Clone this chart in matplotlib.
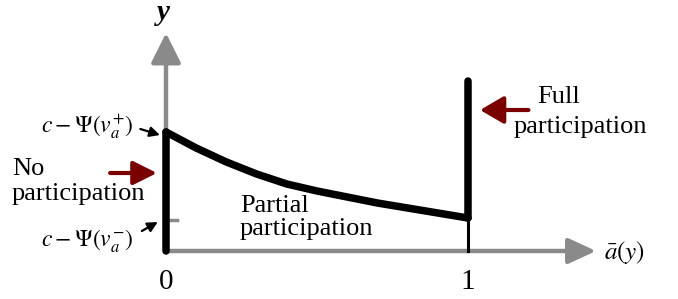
import matplotlib
matplotlib.use('Agg')
import matplotlib.pyplot as plt
import numpy as np

plt.rcParams['font.family'] = ['Liberation Serif', 'DejaVu Serif']
plt.rcParams['mathtext.fontset'] = 'stix'

# data
a_bar = [0.0, 0.1, 0.2, 0.3, 0.4, 0.5, 0.6, 0.7, 0.8, 0.9, 1.0]
y_partial = [1.19, 1.03, 0.89, 0.77, 0.67, 0.60, 0.54, 0.48, 0.43, 0.38, 0.33]
y_no = [0.0, 1.19]        # vertical segment at a=0
y_full = [0.33, 1.70]     # vertical segment at a=1
psi_minus = 0.31          # level of c - Psi(v_a^-)
tick_vals = [0, 1]
tick_labels = ['0', '1']

GRAY = '#8a8a8a'
RED = '#7a0000'

fig = plt.figure(figsize=(6.78, 2.99), dpi=100)
ax = fig.add_axes([0, 0, 1, 1])
# 1 unit of a = 302 px, 1 unit of y = 100 px, origin at (166, 251) px
ax.set_xlim(-166 / 302, (678 - 166) / 302)
ax.set_ylim(-(299 - 251) / 100, 251 / 100)
ax.axis('off')

# axes with arrow heads
ax.annotate('', xy=(1.424, 0), xytext=(0, 0),
            arrowprops=dict(arrowstyle='-|>,head_length=1.3,head_width=0.6',
                            mutation_scale=13, color=GRAY, lw=3.2,
                            shrinkA=0, shrinkB=0))
ax.annotate('', xy=(0, 2.18), xytext=(0, 0),
            arrowprops=dict(arrowstyle='-|>,head_length=1.4,head_width=0.7',
                            mutation_scale=13, color=GRAY, lw=3.2,
                            shrinkA=0, shrinkB=0))
ax.plot([0, 0.035], [psi_minus, psi_minus], color=GRAY, lw=2.5)

# participation curve
ax.plot([0, 0], y_no, color='black', lw=5.4, solid_capstyle='round', zorder=5)
ax.plot(a_bar, y_partial, color='black', lw=5.4, solid_capstyle='round',
        solid_joinstyle='round', zorder=5)
ax.plot([1, 1], y_full, color='black', lw=5.4, solid_capstyle='round', zorder=5)
ax.plot([1, 1], [0, y_full[0]], color='black', lw=2.2, zorder=5)

# tick labels
for v, lab in zip(tick_vals, tick_labels):
    ax.text(v, -0.31, lab, ha='center', va='center', fontsize=21)

ax.text(-0.01, 2.38, 'y', ha='center', va='center', fontsize=21,
        fontweight='bold', style='italic')
ax.text(1.45, -0.02, r'$\bar{a}(y)$', ha='left', va='center', fontsize=18)

# level labels
ax.text(-0.26, 1.24, r'$c-\Psi(v_a^{+})$', ha='center', va='center', fontsize=17)
ax.text(-0.26, 0.10, r'$c-\Psi(v_a^{-})$', ha='center', va='center', fontsize=17)
ax.annotate('', xy=(-0.02, 1.16), xytext=(-0.085, 1.22),
            arrowprops=dict(arrowstyle='-|>,head_length=0.6,head_width=0.3',
                            mutation_scale=10, color='black', lw=1.6,
                            shrinkA=0, shrinkB=0))
ax.annotate('', xy=(-0.027, 0.29), xytext=(-0.08, 0.20),
            arrowprops=dict(arrowstyle='-|>,head_length=0.6,head_width=0.3',
                            mutation_scale=10, color='black', lw=1.6,
                            shrinkA=0, shrinkB=0))

# region labels
ax.text(-0.51, 0.51, 'No\nparticipation', ha='left', va='baseline',
        fontsize=19, linespacing=1.2)
ax.text(0.245, 0.16, 'Partial\nparticipation', ha='left', va='baseline',
        fontsize=19, linespacing=1.05)
ax.text(1.23, 1.48, 'Full', ha='left', va='baseline', fontsize=19)
ax.text(1.15, 1.18, 'participation', ha='left', va='baseline', fontsize=19)

# red arrows
ax.annotate('', xy=(-0.03, 0.78), xytext=(-0.185, 0.78),
            arrowprops=dict(arrowstyle='-|>,head_length=1.2,head_width=0.6',
                            mutation_scale=12, color=RED, lw=3,
                            shrinkA=0, shrinkB=0))
ax.annotate('', xy=(1.04, 1.41), xytext=(1.2, 1.41),
            arrowprops=dict(arrowstyle='-|>,head_length=1.2,head_width=0.7',
                            mutation_scale=12, color=RED, lw=3,
                            shrinkA=0, shrinkB=0))

fig.savefig('out.png', dpi=100)
